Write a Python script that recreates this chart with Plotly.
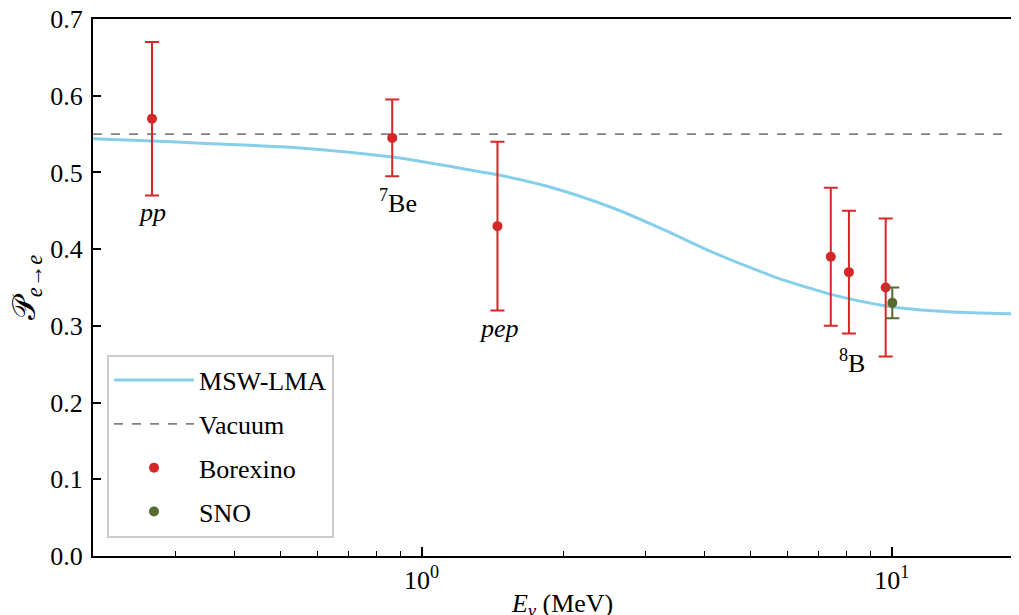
import plotly.graph_objects as go
import math

# MSW-LMA survival probability curve
msw_E = [0.2, 0.267, 0.34, 0.55, 0.866, 1.33, 1.45, 1.85, 2.57, 3.28, 4.19, 5.35, 5.80, 7.06, 7.42, 9.95, 13.1, 18.7, 19.4]
msw_P = [0.544, 0.541, 0.538, 0.532, 0.520, 0.501, 0.497, 0.482, 0.453, 0.425, 0.395, 0.369, 0.361, 0.345, 0.341, 0.325, 0.3185, 0.3155, 0.3153]

vacuum_P = 0.55

# Borexino measurements
bx_E = [0.267, 0.866, 1.45, 7.42, 8.11, 9.71]
bx_P = [0.57, 0.545, 0.43, 0.39, 0.37, 0.35]
bx_err = [0.10, 0.05, 0.11, 0.09, 0.08, 0.09]

# SNO measurement
sno_E = [10.03]
sno_P = [0.33]
sno_err = [0.02]

# labels
label_text = ["<i>pp</i>", "<sup>7</sup>Be", "<i>pep</i>", "<sup>8</sup>B"]
label_E = [0.267, 0.889, 1.458, 8.22]
label_P = [0.448, 0.462, 0.297, 0.254]

x_min, x_max = 0.2, 19.4
major_ticks = [1, 10]
major_labels = ["10<sup>0</sup>", "10<sup>1</sup>"]
minor_ticks = [0.3, 0.4, 0.5, 0.6, 0.7, 0.8, 0.9, 2, 3, 4, 5, 6, 7, 8, 9]

FONT = "Liberation Serif"
FS = 26

fig = go.Figure()
fig.add_trace(go.Scatter(x=msw_E, y=msw_P, mode="lines", name="MSW-LMA",
                         line=dict(color="#87CEEB", width=3, shape="spline"),
                         legendgroup="a"))
fig.add_trace(go.Scatter(x=[x_min, x_max], y=[vacuum_P, vacuum_P], mode="lines", name="Vacuum",
                         line=dict(color="#808080", width=1.8, dash="dash"),
                         legendgroup="b"))
fig.add_trace(go.Scatter(x=bx_E, y=bx_P, mode="markers", name="Borexino",
                         marker=dict(color="#d62728", size=10),
                         error_y=dict(type="data", array=bx_err, color="#d62728", thickness=2, width=7),
                         legendgroup="c"))
fig.add_trace(go.Scatter(x=sno_E, y=sno_P, mode="markers", name="SNO",
                         marker=dict(color="#556B2F", size=10),
                         error_y=dict(type="data", array=sno_err, color="#556B2F", thickness=2, width=7),
                         legendgroup="d"))

for t, e, p in zip(label_text, label_E, label_P):
    fig.add_annotation(x=math.log10(e), y=p, text=t, showarrow=False,
                       font=dict(family=FONT, size=FS, color="black"),
                       xanchor="center", yanchor="middle")

# axis titles as annotations
fig.add_annotation(xref="paper", yref="paper", x=-0.071, y=0.50,
                   text="𝒫<sub><i>e</i>→<i>e</i></sub>", textangle=-90, showarrow=False,
                   font=dict(family=FONT, size=32, color="black"),
                   xanchor="center", yanchor="middle")
fig.add_annotation(xref="paper", yref="paper", x=0.502, y=-0.057,
                   text="<i>E<sub>ν</sub></i> (MeV)", showarrow=False,
                   font=dict(family=FONT, size=FS, color="black"),
                   xanchor="center", yanchor="top")

fig.update_layout(
    width=1019, height=615,
    margin=dict(l=85, r=0, t=11, b=67),
    plot_bgcolor="white", paper_bgcolor="white",
    font=dict(family=FONT, size=FS, color="black"),
    showlegend=True,
    legend=dict(x=0.015, y=0.375, xanchor="left", yanchor="top",
                bordercolor="#cccccc", borderwidth=2, bgcolor="rgba(255,255,255,0.8)",
                font=dict(family=FONT, size=FS, color="black"),
                tracegroupgap=7, itemwidth=80),
    xaxis=dict(type="log", range=[math.log10(x_min), math.log10(x_max)],
               tickvals=major_ticks, ticktext=major_labels, automargin=False,
               ticks="inside", ticklen=9, tickwidth=1.5, tickcolor="black",
               minor=dict(tickvals=minor_ticks, ticks="inside", ticklen=5, tickwidth=1.2, tickcolor="black"),
               showline=True, linecolor="black", linewidth=2, mirror=True,
               showgrid=False, zeroline=False, ticklabeloverflow="allow"),
    yaxis=dict(range=[0, 0.7], dtick=0.1, tickformat=".1f", automargin=False,
               ticks="inside", ticklen=8, tickwidth=1.5, tickcolor="black",
               showline=True, linecolor="black", linewidth=2, ticklabelstandoff=3,
               showgrid=False, zeroline=False, ticklabeloverflow="allow"),
)

fig.write_html("out.html")
